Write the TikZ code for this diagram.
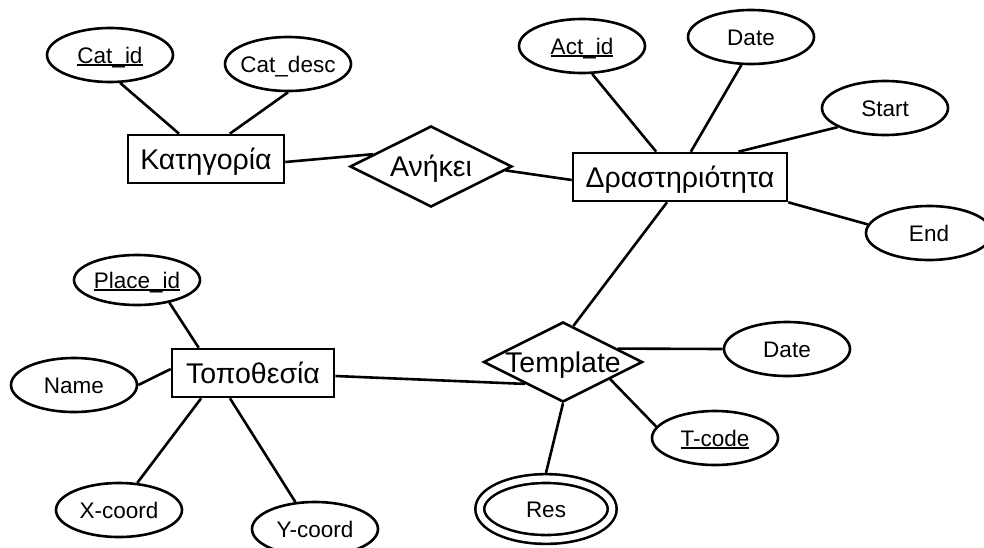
\documentclass[tikz,border=0pt]{standalone}
\usepackage{fontspec}
\setmainfont{Liberation Sans}
\usetikzlibrary{shapes.geometric,calc}
\newcommand{\zw}[1]{\makebox[0pt]{#1}}
\newcommand{\keyul}[1]{\setbox0\hbox{#1}\rlap{\smash{\rule[-3.2pt]{\wd0}{1.8pt}}}\box0}
\begin{document}
\begin{tikzpicture}[x=1pt,y=-1pt,
  lnk/.style={line width=2.6pt},
  attr/.style={ellipse, draw, line width=2.6pt, minimum width=126pt, minimum height=54pt,
    inner sep=0pt, text height=16.1pt, text depth=0pt, font=\fontsize{22.5}{27}\selectfont},
  ent/.style={rectangle, draw, line width=2.6pt, minimum height=48pt, inner sep=0pt,
    text height=20.4pt, text depth=0pt, font=\fontsize{28.5}{34}\selectfont},
  rel/.style={diamond, draw, line width=2.6pt, inner sep=0pt,
    text height=20.4pt, text depth=0pt, font=\fontsize{28.5}{34}\selectfont},
  weakattr/.style={attr, double, double distance=6.2pt, minimum width=132.4pt, minimum height=60.9pt, outer sep=5.7pt}
]
\clip (0,0) rectangle (984,547);
% Category
\node[attr] (catid) at (110,55) {\zw{\keyul{Cat\_id}}};
\node[attr] (catdesc) at (288,64) {\zw{Cat\_desc}};
\node[ent, minimum width=156pt] (kat) at (206,159) {Κατηγορία};
\node[rel, minimum width=162pt, minimum height=81pt] (anikei) at (431,166.5) {\zw{Ανήκει}};
% Activity
\node[attr] (actid) at (582,46) {\zw{\keyul{Act\_id}}};
\node[attr] (date1) at (751,37) {\zw{Date}};
\node[attr] (start) at (885,108) {\zw{Start}};
\node[attr] (endattr) at (929,233) {\zw{End}};
\node[ent, minimum width=214pt] (drast) at (680,177) {Δραστηριότητα};
% Place
\node[attr, minimum height=50pt] (placeid) at (137,280) {\zw{\keyul{Place\_id}}};
\node[attr] (name) at (74,385) {\zw{Name}};
\node[ent, minimum width=162pt] (topo) at (253,373) {Τοποθεσία};
\node[attr] (xcoord) at (119,510) {\zw{X-coord}};
\node[attr] (ycoord) at (315,529) {\zw{Y-coord}};
% Template
\node[rel, minimum width=159pt, minimum height=80pt] (templ) at (563,362) {\zw{Template}};
\node[attr] (date2) at (787,349) {\zw{Date}};
\node[attr] (tcode) at (715,438) {\zw{\keyul{T-code}}};
\node[weakattr] (res) at (546,509) {\zw{Res}};
% connectors
\draw[lnk] (catid.290) -- ($(kat.north west)!0.33!(kat.north east)$);
\draw[lnk] (catdesc.south) -- ($(kat.north west)!0.65!(kat.north east)$);
\draw[lnk] ([yshift=-3pt]kat.east) -- (anikei.168);
\draw[lnk] (anikei.-3) -- ([yshift=-3pt]drast.west);
\draw[lnk] (actid.290) -- ($(drast.north west)!0.39!(drast.north east)$);
\draw[lnk] (date1.251) -- ($(drast.north west)!0.55!(drast.north east)$);
\draw[lnk] (start.202) -- ($(drast.north west)!0.77!(drast.north east)$);
\draw[lnk] (endattr.172) -- (drast.south east);
\draw[lnk] ($(drast.south west)!0.44!(drast.south east)$) -- (templ.74);
\draw[lnk] ($(templ.north)!0.675!(templ.east)$) -- (date2.west);
\draw[lnk] (templ.340) -- (tcode.169);
\draw[lnk] (templ.south) -- (res.north);
\draw[lnk] ([yshift=-3pt]topo.east) -- (templ.210);
\draw[lnk] (placeid.325) -- ($(topo.north west)!0.17!(topo.north east)$);
\draw[lnk] (name.east) -- ([yshift=4pt]topo.west);
\draw[lnk] (xcoord.56) -- ($(topo.south west)!0.185!(topo.south east)$);
\draw[lnk] (ycoord.126) -- ($(topo.south west)!0.36!(topo.south east)$);
\end{tikzpicture}
\end{document}
